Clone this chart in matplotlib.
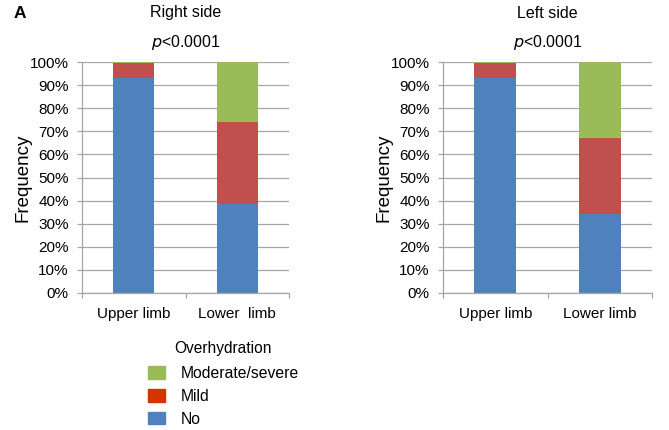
import numpy as np
import matplotlib
matplotlib.use("Agg")
import matplotlib.pyplot as plt
from matplotlib.patches import Patch
from matplotlib.ticker import PercentFormatter

plt.rcParams['font.family'] = ['Liberation Sans', 'DejaVu Sans']

# data (percent of patients)
categorias = ["Upper limb", "Lower limb"]
rotulos_direita = ["Upper limb", "Lower  limb"]
rotulos_esquerda = ["Upper limb", "Lower limb"]
series = ["No", "Mild", "Moderate/severe"]

direita_no = [93.2, 38.6]
direita_mild = [6.3, 35.3]
direita_mod = [0.5, 26.1]

esquerda_no = [93.0, 34.4]
esquerda_mild = [6.5, 32.6]
esquerda_mod = [0.5, 33.0]

cores_barras = ["#4F81BD", "#C0504D", "#9BBB59"]
cores_legenda = ["#4F81BD", "#D43500", "#9BBB59"]
cinza = "#A6A6A6"

fig = plt.figure(figsize=(6.69, 4.30), dpi=100)
W, H = 669, 430


def eixo(x0, x1, y0, y1):
    return fig.add_axes([x0 / W, 1 - y1 / H, (x1 - x0) / W, (y1 - y0) / H])


def desenhar(ax, no, mild, mod, rotulos, titulo):
    x = np.arange(len(categorias))
    ax.set_axisbelow(True)
    base = np.zeros(len(x))
    for vals, cor in zip([no, mild, mod], cores_barras):
        ax.bar(x, vals, width=0.4, bottom=base, color=cor, zorder=2)
        base = base + np.array(vals)
    ax.set_xlim(-0.5, 1.5)
    ax.set_ylim(0, 100)
    ax.set_yticks(np.arange(0, 101, 10))
    ax.yaxis.set_major_formatter(PercentFormatter(decimals=0))
    ax.yaxis.grid(True, color=cinza, linewidth=0.9)
    ax.set_xticks(x)
    ax.set_xticklabels(rotulos, fontsize=11)
    ax.set_xticks([-0.5, 0.5, 1.5], minor=True)
    ax.tick_params(axis='x', which='major', length=0, pad=10)
    ax.tick_params(axis='x', which='minor', length=3.6, width=0.9, color=cinza, direction='out')
    ax.tick_params(axis='y', labelsize=11, length=3.6, width=0.9, color=cinza, pad=6)
    for s in ['top', 'right']:
        ax.spines[s].set_visible(False)
    for s in ['left', 'bottom']:
        ax.spines[s].set_color(cinza)
        ax.spines[s].set_linewidth(0.9)
    ax.set_ylabel("Frequency", fontsize=13.5, labelpad=-1)
    ax.text(0.5, 1.0 + 49 / 231, titulo, transform=ax.transAxes,
            ha='center', va='center', fontsize=11.5)
    ax.text(0.5, 1.0 + 19 / 231, r"$\it{p}$<0.0001", transform=ax.transAxes,
            ha='center', va='center', fontsize=11.5)


ax1 = eixo(82, 289, 62, 293)
desenhar(ax1, direita_no, direita_mild, direita_mod, rotulos_direita, "Right side")
ax2 = eixo(443, 652, 62, 293)
desenhar(ax2, esquerda_no, esquerda_mild, esquerda_mod, rotulos_esquerda, "Left side")

fig.text(14 / W, 1 - 13 / H, "A", fontsize=12.5, fontweight='bold', va='center', ha='left')

alcas = [Patch(color=c) for c in cores_legenda[::-1]]
leg = fig.legend(alcas, series[::-1], title="Overhydration", loc='upper left',
                 bbox_to_anchor=(134 / W, 1 - 327 / H), frameon=False,
                 fontsize=11.3, title_fontsize=11.2, handlelength=1.05,
                 handleheight=0.85, handletextpad=1.0, labelspacing=0.5)
leg._legend_box.sep = 7

fig.savefig("out.png", dpi=100)
